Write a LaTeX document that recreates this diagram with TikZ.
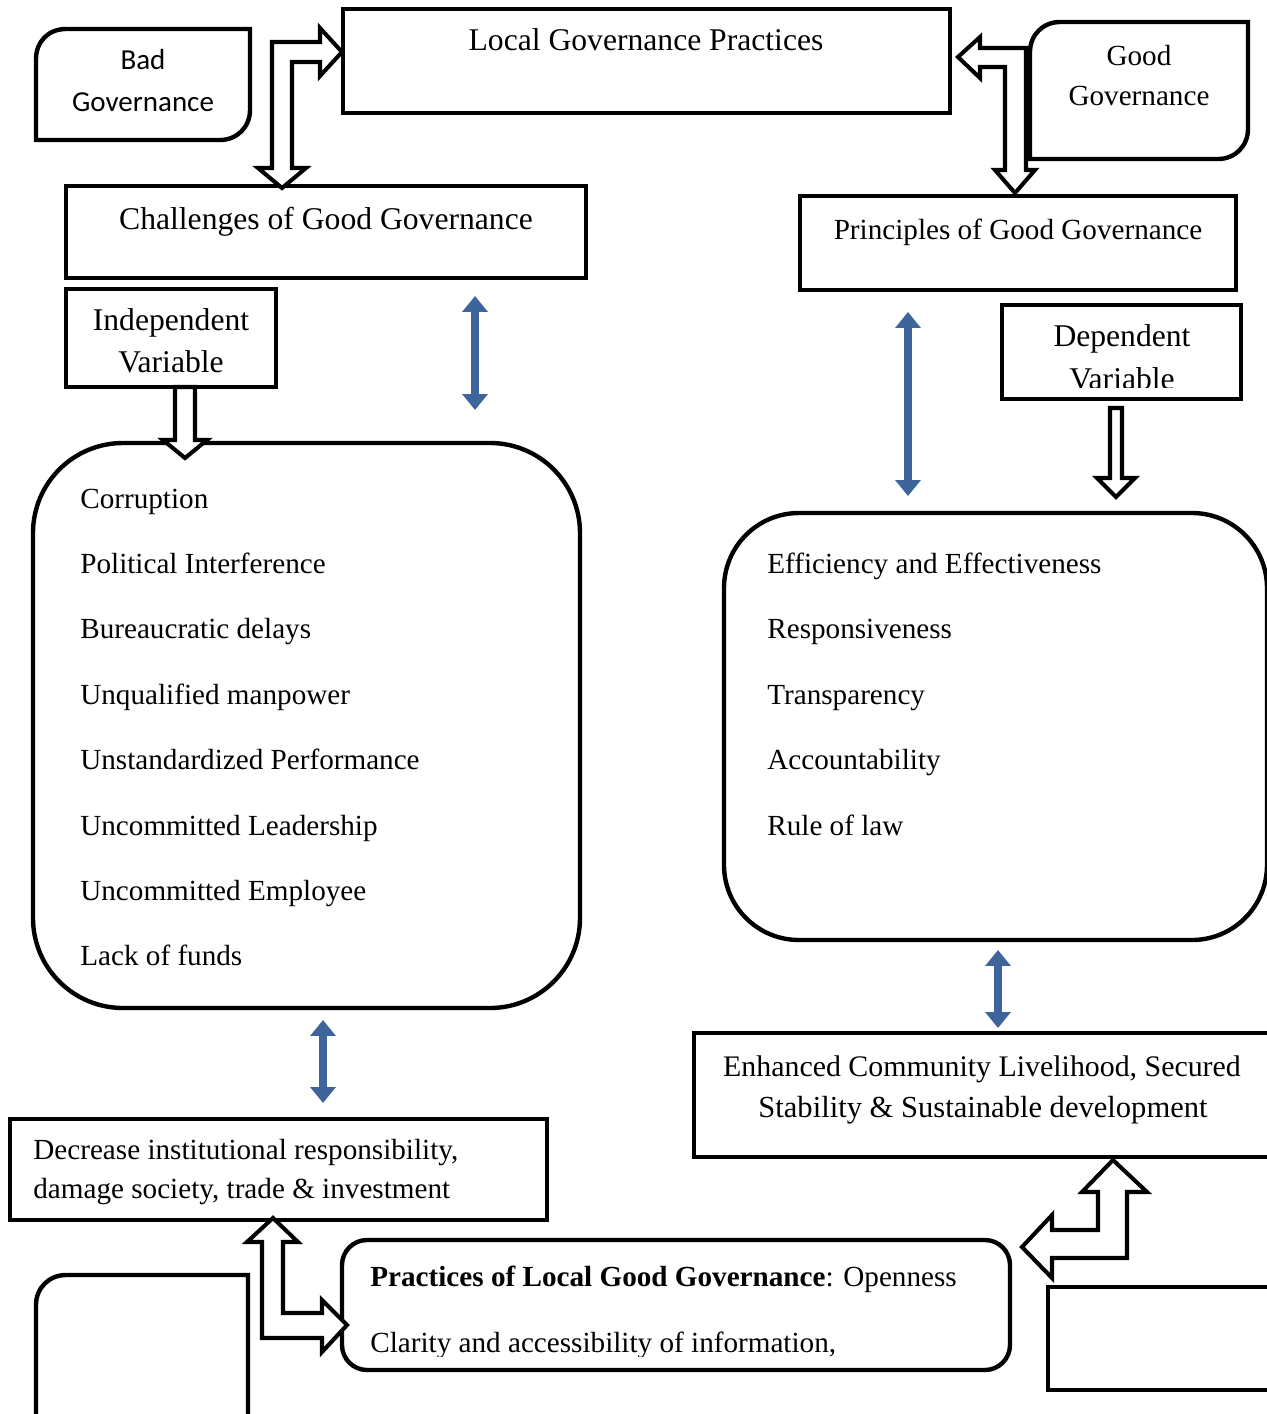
\documentclass[tikz,border=0pt]{standalone}
\usepackage{fontspec}
\setmainfont{Liberation Serif}
\newfontfamily\calibri{Carlito}
\usetikzlibrary{arrows.meta}
\usetikzlibrary{fit}

\definecolor{arrblue}{RGB}{61,100,155}

\tikzset{
  box/.style={draw, line width=2.5pt, inner sep=0pt},
  roundbox/.style={box, rounded corners=#1},
  txt/.style={inner sep=0pt, font=\fontsize{16.6}{23.5}\selectfont},
  head/.style={inner sep=0pt, font=\fontsize{18}{24}\selectfont},
  blockarrow/.style={draw, fill=white, line width=2.3pt, line join=miter},
  twoway/.style={arrblue, line width=5pt,
    {Triangle[width=14pt,length=9pt]}-{Triangle[width=14pt,length=9pt]}}
}

\begin{document}
\begin{tikzpicture}[x=0.02cm,y=-0.02cm]
            \useasboundingbox (0,0) rectangle (1267,1414);
            \clip (0,0) rectangle (1267,1414);
            % top row
            \node[box, fit={(343,9) (950,113)}] (lgp) {};
            \node[head, anchor=base] (lgpt) at (646,50) {Local Governance Practices};
            \draw[line width=2.5pt] (36,140) -- (36,59) .. controls (36,42) and (48,29) .. (66,29)
                -- (250,29) -- (250,110) .. controls (250,127) and (237,140) .. (220,140) -- cycle;
            \node[inner sep=0pt, font=\calibri\fontsize{16.5}{24}\selectfont, anchor=base] (bad1) at (143,69) {Bad};
            \node[inner sep=0pt, font=\calibri\fontsize{16.5}{24}\selectfont, anchor=base] (bad2) at (143,111) {Governance};
            \draw[line width=2.5pt] (1030,159) -- (1030,52) .. controls (1030,35) and (1043,22) .. (1060,22)
                -- (1248,22) -- (1248,129) .. controls (1248,146) and (1235,159) .. (1218,159) -- cycle;
            \node[txt, anchor=base] (good1) at (1139,65) {Good};
            \node[txt, anchor=base] (good2) at (1139,105) {Governance};
            % headings
            \node[box, fit={(66,186) (586,278)}] (chal) {};
            \node[head, anchor=base] (chalt) at (326,229) {Challenges of Good Governance};
            \node[box, fit={(800,196) (1236,290)}] (prin) {};
            \node[txt, anchor=base] (print) at (1018,239) {Principles of Good Governance};
            \node[box, fit={(66,289) (276,387)}] (indep) {};
            \node[head, anchor=base] (indep1) at (171,330) {Independent};
            \node[head, anchor=base] (indep2) at (171,372) {Variable};
            \node[box, fit={(1002,305) (1241,399)}] (dep) {};
            \node[head, anchor=base] (dep1) at (1122,346) {Dependent};
            \begin{scope}
                \clip (1002,305) rectangle (1241,387);
                \node[head, anchor=base] (dep2) at (1122,389) {Variable};
            \end{scope}
            % lists
            \node[roundbox=1.8cm, fit={(33,443) (580,1008)}] (chbox) {};
            \foreach \t [count=\i from 0] in {Corruption, Political Interference,
                Bureaucratic delays, Unqualified manpower, Unstandardized Performance,
                Uncommitted Leadership, Uncommitted Employee, Lack of funds}
                \node[txt, anchor=base west] (ch\i) at (80,{508+65.4*\i}) {\t};
            \node[roundbox=1.5cm, fit={(724,513) (1267,940)}] (prbox) {};
            \foreach \t [count=\i from 0] in {Efficiency and Effectiveness, Responsiveness,
                Transparency, Accountability, Rule of law}
                \node[txt, anchor=base west] (pr\i) at (767,{573+65.5*\i}) {\t};
            % outcomes
            \node[box, fit={(694,1033) (1300,1157)}] (enh) {};
            \node[txt, font=\fontsize{17}{24}\selectfont, anchor=base] (enh1) at (982,1076) {Enhanced Community Livelihood, Secured};
            \node[txt, font=\fontsize{17.4}{24}\selectfont, anchor=base] (enh2) at (983,1117) {Stability \& Sustainable development};
            \node[box, fit={(10,1119) (547,1220)}] (decr) {};
            \node[txt, anchor=base west] (decr1) at (33,1159) {Decrease institutional responsibility,};
            \node[txt, anchor=base west] (decr2) at (33,1198) {damage society, trade \& investment};
            \node[roundbox=0.5cm, fit={(342,1240) (1010,1370)}] (prac) {};
            \node[txt, anchor=base west] (prac1) at (370,1286) {\textbf{Practices of Local Good Governance}: Openness};
            \begin{scope}
                \clip (342,1240) rectangle (1010,1356);
                \node[txt, anchor=base west] (prac2) at (370,1352) {Clarity and accessibility of information,};
            \end{scope}
            \draw[line width=2.5pt] (36,1440) -- (36,1305) .. controls (36,1288) and (49,1275) .. (66,1275)
                -- (248,1275) -- (248,1440);
            \node[box, fit={(1048,1287) (1300,1390)}] (empty) {};
            % block arrows
            \draw[blockarrow] (282,188) -- (306,168) -- (292,168) -- (292,62) -- (320,62)
                -- (320,76) -- (342,52) -- (320,28) -- (320,42) -- (272,42) -- (272,168)
                -- (258,168) -- cycle;
            \draw[blockarrow] (1015,193) -- (1035,170) -- (1026,170) -- (1026,48) -- (980,48)
                -- (980,37) -- (958,57) -- (980,78) -- (980,67) -- (1005,67) -- (1005,170)
                -- (995,170) -- cycle;
            \draw[blockarrow] (175,387) -- (195,387) -- (195,440) -- (207,440) -- (185,458)
                -- (163,440) -- (175,440) -- cycle;
            \draw[blockarrow] (1110,408) -- (1122,408) -- (1122,478) -- (1135,478) -- (1116,497)
                -- (1097,478) -- (1110,478) -- cycle;
            \draw[blockarrow] (273,1218) -- (298,1242) -- (283,1242) -- (283,1313) -- (322,1313)
                -- (322,1300) -- (347,1325) -- (322,1352) -- (322,1338) -- (262,1338)
                -- (262,1242) -- (247,1242) -- cycle;
            \draw[blockarrow] (1113,1160) -- (1147,1192) -- (1127,1192) -- (1127,1258)
                -- (1052,1258) -- (1052,1278) -- (1022,1247) -- (1052,1215) -- (1052,1230)
                -- (1098,1230) -- (1098,1192) -- (1082,1192) -- cycle;
            % two-way links
            \coordinate (a1) at (475,296);
            \coordinate (a2) at (475,410);
            \coordinate (b1) at (908,312);
            \coordinate (b2) at (908,496);
            \coordinate (c1) at (323,1020);
            \coordinate (c2) at (323,1103);
            \coordinate (d1) at (998,950);
            \coordinate (d2) at (998,1028);
            \foreach \p/\q in {a1/a2,b1/b2,c1/c2,d1/d2}
                \draw[twoway] (\p) -- (\q);
        \end{tikzpicture}
\end{document}
